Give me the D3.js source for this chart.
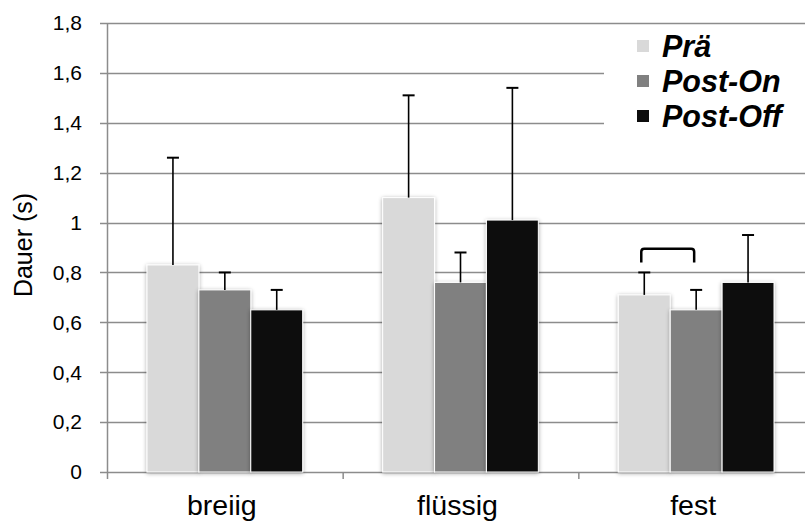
<!DOCTYPE html>
<html>
<head>
<meta charset="utf-8">
<script src="https://cdn.jsdelivr.net/npm/d3@7"></script>
<style>
  body { margin: 0; background: #fff; }
  svg text { font-family: "Liberation Sans", Arial, sans-serif; }
</style>
</head>
<body>
<div id="chart"></div>
<script>
// data
var categories = ["breiig", "flüssig", "fest"];
var series = ["Prä", "Post-On", "Post-Off"];
var colors = ["#d9d9d9", "#808080", "#0d0d0d"];
var praeValues = [0.83, 1.10, 0.71];
var postOnValues = [0.73, 0.76, 0.65];
var postOffValues = [0.65, 1.01, 0.76];
var praeErrors = [0.43, 0.41, 0.09];
var postOnErrors = [0.07, 0.12, 0.08];
var postOffErrors = [0.08, 0.53, 0.19];
var yTicks = [0, 0.2, 0.4, 0.6, 0.8, 1, 1.2, 1.4, 1.6, 1.8];

var width = 805, height = 522;
var margin = { left: 107, top: 23, bottom: 50 };
var plotRight = 814;

var svg = d3.select("#chart").append("svg")
  .attr("width", width)
  .attr("height", height);

var defs = svg.append("defs");
var shadow = defs.append("filter").attr("id", "shadow")
  .attr("x", "-20%").attr("y", "-10%").attr("width", "140%").attr("height", "120%");
shadow.append("feGaussianBlur").attr("in", "SourceAlpha").attr("stdDeviation", 2);
shadow.append("feOffset").attr("dx", 0).attr("dy", 1).attr("result", "b");
shadow.append("feComponentTransfer").append("feFuncA").attr("type", "linear").attr("slope", 0.35);
var merge = shadow.append("feMerge");
merge.append("feMergeNode");
merge.append("feMergeNode").attr("in", "SourceGraphic");

var y = d3.scaleLinear().domain([0, 1.8]).range([472, 23]);
var x0 = d3.scaleBand().domain(categories).range([margin.left, plotRight]).paddingInner(0).paddingOuter(0);
var x1 = d3.scaleBand().domain(series).range([40, x0.bandwidth() - 40]).padding(0);

var data = categories.map(function(c, i) {
  return {
    cat: c,
    vals: [
      { s: series[0], v: praeValues[i], e: praeErrors[i], color: colors[0] },
      { s: series[1], v: postOnValues[i], e: postOnErrors[i], color: colors[1] },
      { s: series[2], v: postOffValues[i], e: postOffErrors[i], color: colors[2] }
    ]
  };
});

// gridlines
svg.append("g")
  .selectAll("line")
  .data(yTicks)
  .enter().append("line")
  .attr("x1", 100)
  .attr("x2", width)
  .attr("y1", function(d) { return Math.round(y(d)) + 0.5; })
  .attr("y2", function(d) { return Math.round(y(d)) + 0.5; })
  .attr("stroke", "#8c8c8c")
  .attr("stroke-width", 1.5);

// y axis line
svg.append("line")
  .attr("x1", margin.left + 0.5).attr("x2", margin.left + 0.5)
  .attr("y1", y(1.8)).attr("y2", y(0) + 7)
  .attr("stroke", "#8c8c8c").attr("stroke-width", 1.5);

// x ticks between categories
svg.append("g")
  .selectAll("line")
  .data(categories.slice(1))
  .enter().append("line")
  .attr("x1", function(d) { return x0(d) + 0.5; })
  .attr("x2", function(d) { return x0(d) + 0.5; })
  .attr("y1", y(0)).attr("y2", y(0) + 7)
  .attr("stroke", "#8c8c8c").attr("stroke-width", 1.5);

// y tick labels
svg.append("g")
  .selectAll("text")
  .data(yTicks)
  .enter().append("text")
  .attr("x", 82)
  .attr("y", function(d) { return y(d); })
  .attr("dy", "0.35em")
  .attr("text-anchor", "end")
  .attr("font-size", 21)
  .attr("fill", "#000")
  .text(function(d) { return d3.format(".1~f")(d).replace(".", ","); });

// y axis title
svg.append("text")
  .attr("transform", "translate(32," + 245 + ") rotate(-90)")
  .attr("text-anchor", "middle")
  .attr("font-size", 25)
  .text("Dauer (s)");

// category labels
svg.append("g")
  .selectAll("text")
  .data(categories)
  .enter().append("text")
  .attr("x", function(d) { return x0(d) + x0.bandwidth() / 2 - 3; })
  .attr("y", 515)
  .attr("text-anchor", "middle")
  .attr("font-size", 28.5)
  .text(function(d) { return d; });

// bars
var groups = svg.append("g")
  .selectAll("g")
  .data(data)
  .enter().append("g")
  .attr("transform", function(d) { return "translate(" + x0(d.cat) + ",0)"; });

groups.selectAll("rect")
  .data(function(d) { return d.vals; })
  .enter().append("rect")
  .attr("x", function(d) { return x1(d.s); })
  .attr("y", function(d) { return y(d.v); })
  .attr("width", x1.bandwidth())
  .attr("height", function(d) { return y(0) - y(d.v); })
  .attr("fill", function(d) { return d.color; })
  .attr("stroke", "#fff")
  .attr("stroke-width", 1)
  .attr("filter", "url(#shadow)");

// error bars
var err = groups.selectAll("g.err")
  .data(function(d) { return d.vals; })
  .enter().append("g").attr("class", "err");

err.append("line")
  .attr("x1", function(d) { return x1(d.s) + x1.bandwidth() / 2; })
  .attr("x2", function(d) { return x1(d.s) + x1.bandwidth() / 2; })
  .attr("y1", function(d) { return y(d.v); })
  .attr("y2", function(d) { return y(d.v + d.e); })
  .attr("stroke", "#000").attr("stroke-width", 1.6);

err.append("line")
  .attr("x1", function(d) { return x1(d.s) + x1.bandwidth() / 2 - 6; })
  .attr("x2", function(d) { return x1(d.s) + x1.bandwidth() / 2 + 6; })
  .attr("y1", function(d) { return y(d.v + d.e); })
  .attr("y2", function(d) { return y(d.v + d.e); })
  .attr("stroke", "#000").attr("stroke-width", 2);

// significance bracket over fest: Prä vs Post-On
var fx = x0("fest");
var bx1 = fx + x1("Prä") + x1.bandwidth() / 2 - 3;
var bx2 = fx + x1("Post-On") + x1.bandwidth() / 2 - 2;
var by = y(0.895), byEnd = y(0.84);
svg.append("path")
  .attr("d", "M" + bx1 + "," + byEnd + " L" + bx1 + "," + (by + 3) +
             " Q" + bx1 + "," + by + " " + (bx1 + 3) + "," + by +
             " L" + (bx2 - 3) + "," + by +
             " Q" + bx2 + "," + by + " " + bx2 + "," + (by + 3) +
             " L" + bx2 + "," + byEnd)
  .attr("fill", "none")
  .attr("stroke", "#000")
  .attr("stroke-width", 2.5);

// legend
var legend = svg.append("g").attr("transform", "translate(604,30)");
legend.append("rect")
  .attr("x", 0).attr("y", 0).attr("width", 201).attr("height", 106)
  .attr("fill", "#fff");
var items = legend.selectAll("g")
  .data(series)
  .enter().append("g")
  .attr("transform", function(d, i) { return "translate(0," + (16 + i * 35) + ")"; });
items.append("rect")
  .attr("x", 33).attr("y", -6).attr("width", 12).attr("height", 12)
  .attr("fill", function(d, i) { return colors[i]; });
items.append("text")
  .attr("x", 58)
  .attr("y", 10.5)
  .attr("font-size", 30.5)
  .attr("font-weight", "bold")
  .attr("font-style", "italic")
  .text(function(d) { return d; });
</script>
</body>
</html>
